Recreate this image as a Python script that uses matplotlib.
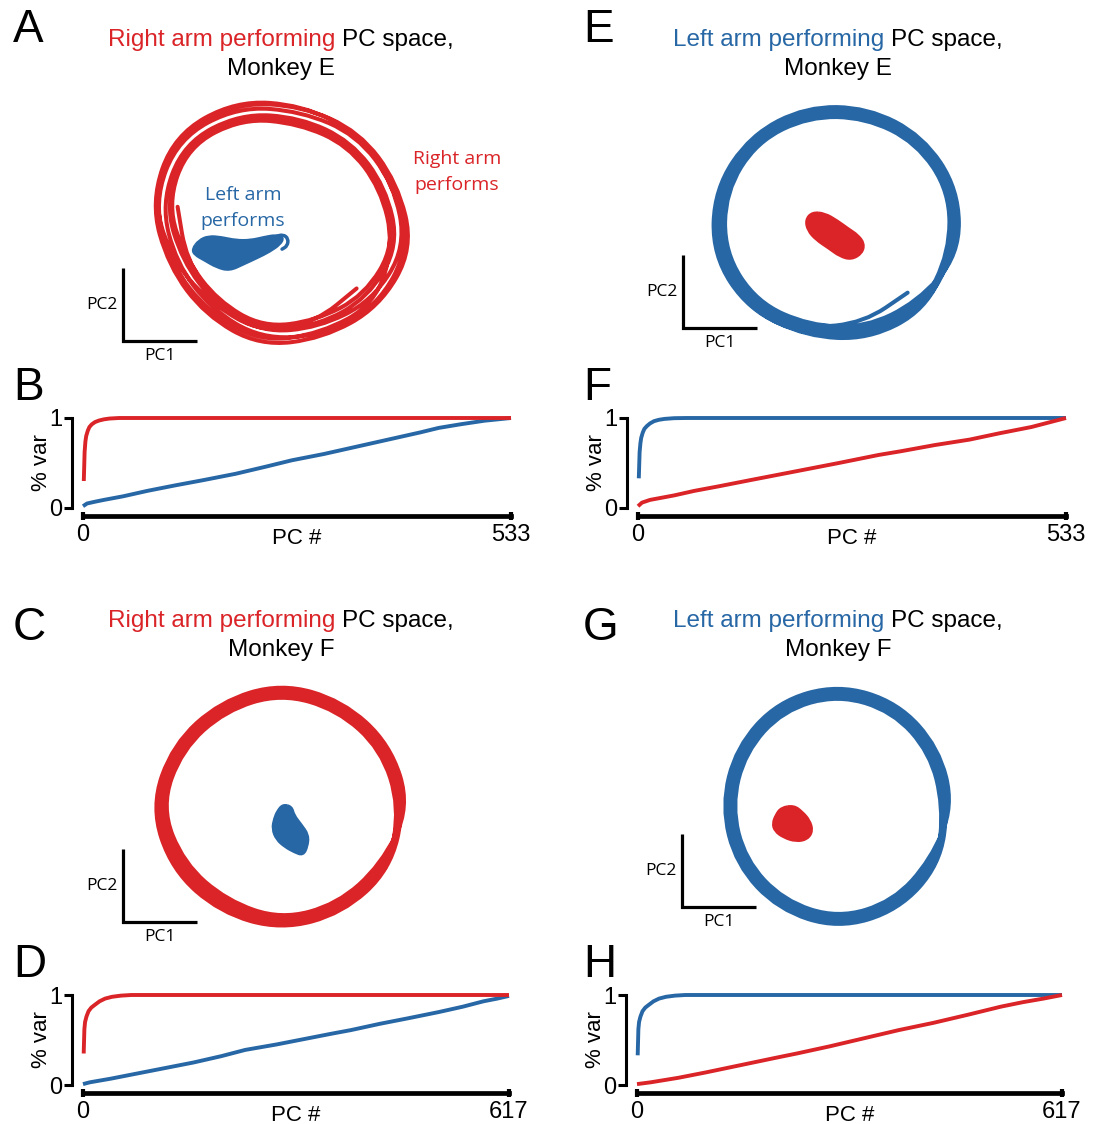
import numpy as np
import matplotlib
matplotlib.use("Agg")
import matplotlib.pyplot as plt
from matplotlib.path import Path
from matplotlib.patches import PathPatch
from matplotlib.lines import Line2D

RED = "#da2428"
BLUE = "#2767a5"
W, H = 1094, 1124

# ---------------------------------------------------------------------------
# cumulative variance curves (PC index, fraction of variance)
# ---------------------------------------------------------------------------
n_E = 533
n_F = 617

B_red_x = [1, 2, 3, 4, 6, 8, 11, 15, 20, 26, 33, 45, 533]
B_red_y = [0.30, 0.62, 0.74, 0.80, 0.86, 0.90, 0.93, 0.955, 0.972, 0.985, 0.994, 1.0, 1.0]
B_blue_x = [0, 5, 15, 26, 50, 80, 114, 150, 190, 228, 260, 300, 340, 380, 420, 443, 470, 500, 533]
B_blue_y = [0.02, 0.05, 0.07, 0.09, 0.13, 0.19, 0.25, 0.31, 0.38, 0.46, 0.53, 0.60, 0.68,
            0.76, 0.84, 0.89, 0.93, 0.97, 1.0]

D_red_x = [1, 2, 3, 5, 8, 12, 17, 24, 32, 42, 55, 70, 617]
D_red_y = [0.35, 0.62, 0.70, 0.76, 0.82, 0.86, 0.89, 0.93, 0.96, 0.98, 0.993, 1.0, 1.0]
D_blue_x = [0, 10, 40, 80, 120, 160, 200, 235, 280, 320, 360, 388, 430, 470, 515, 550, 580, 600, 617]
D_blue_y = [0.01, 0.03, 0.07, 0.13, 0.19, 0.25, 0.32, 0.39, 0.45, 0.51, 0.57, 0.61, 0.68,
            0.74, 0.81, 0.87, 0.93, 0.96, 0.99]

F_blue_x = [1, 2, 3, 4, 6, 8, 11, 15, 20, 26, 33, 45, 60, 533]
F_blue_y = [0.33, 0.62, 0.72, 0.78, 0.84, 0.88, 0.91, 0.94, 0.965, 0.98, 0.99, 0.998, 1.0, 1.0]
F_red_x = [0, 5, 15, 27, 45, 70, 100, 140, 198, 250, 300, 327, 370, 413, 450, 490, 533]
F_red_y = [0.02, 0.06, 0.09, 0.11, 0.14, 0.19, 0.24, 0.31, 0.41, 0.50, 0.59, 0.63, 0.70,
           0.76, 0.83, 0.90, 1.0]

H_blue_x = [1, 2, 3, 5, 8, 12, 17, 24, 32, 42, 55, 70, 617]
H_blue_y = [0.33, 0.62, 0.70, 0.76, 0.82, 0.86, 0.89, 0.93, 0.96, 0.98, 0.993, 1.0, 1.0]
H_red_x = [0, 20, 60, 100, 150, 200, 232, 280, 330, 380, 430, 480, 528, 560, 590, 617]
H_red_y = [0.01, 0.03, 0.08, 0.14, 0.22, 0.30, 0.35, 0.43, 0.52, 0.61, 0.69, 0.78, 0.87,
           0.92, 0.96, 1.0]

# ---------------------------------------------------------------------------
# PC1/PC2 trajectories: radius every 30 deg, running clockwise
# ---------------------------------------------------------------------------
ringA_start = 320
ringA_r = [94, 98, 104, 100, 108, 124, 131, 124, 115, 116, 118, 128,
           122, 115, 117, 112, 114, 126, 133, 126, 116, 114, 114, 121,
           113, 104, 104, 98, 100, 112, 118, 111, 101, 101, 102, 110,
           104, 97, 99, 94, 96, 110, 116, 108, 98, 99, 101, 109,
           117, 110, 113, 108, 111, 123, 128, 120, 110, 112, 114, 124,
           120, 112, 110, 104, 106, 116, 121, 113, 104, 104, 106, 114,
           108, 102, 102, 96, 96, 100]
ringE_start = 315
ringE_r = [97, 101, 107, 114, 118, 118, 115, 111, 110, 113, 117, 118,
           119, 116, 114, 121, 125, 123, 119, 116, 115, 118, 122, 123,
           110, 106, 104, 110, 113, 112, 110, 106, 105, 109, 113, 113,
           117, 114, 112, 118, 121, 121, 118, 114, 113, 116, 120, 121,
           112, 108, 106, 112, 116, 115, 111, 108, 107, 111, 115, 115,
           121, 118, 115, 120, 123, 122, 116, 113, 112, 116, 120, 121,
           114, 111, 109, 115, 119, 117]
ringC_start = 330
ringC_r = [116, 113, 113, 111, 115, 120, 115, 112, 114, 113, 116, 119,
           121, 118, 118, 117, 121, 125, 120, 117, 119, 118, 121, 124,
           111, 108, 108, 104, 108, 115, 110, 107, 109, 108, 111, 114,
           119, 116, 116, 115, 118, 123, 118, 115, 117, 116, 119, 122,
           113, 110, 110, 108, 111, 117, 112, 109, 111, 110, 113, 116,
           117, 115, 114, 107, 110, 121, 116, 113, 115, 114, 117, 120,
           116]
ringG_start = 330
ringG_r = [109, 112, 114, 111, 109, 108, 109, 112, 113, 111, 108, 107,
           114, 117, 119, 116, 114, 113, 114, 117, 118, 116, 113, 112,
           104, 107, 109, 106, 104, 103, 104, 107, 108, 106, 103, 102,
           112, 115, 117, 114, 112, 111, 112, 115, 116, 114, 111, 110,
           106, 109, 111, 108, 106, 105, 106, 109, 110, 108, 105, 104,
           111, 114, 116, 113, 110, 109, 110, 114, 115, 113, 110, 109,
           107, 110, 112, 109, 107, 106, 108, 111, 111, 109, 106, 105,
           109]

# small trajectories of the other arm (outline points, PC units)
blobA_x = [-84, -78, -69, -57, -43, -29, -16, -5, 2, -1, -11, -23, -36, -49, -61, -73, -82]
blobA_y = [-23, -15, -11, -12, -15, -15, -12, -10, -12, -18, -25, -31, -37, -43, -40, -33, -28]
hookA_x = [-5, 2, 7, 6, 1]
hookA_y = [-11, -9, -13, -20, -23]
blobE_x = [-24, -12, 0, 11, 20, 26, 24, 14, 3, -8, -20, -28, -30]
blobE_y = [9, 8, 1, -7, -13, -21, -30, -36, -33, -25, -17, -8, 2]
blobC_x = [2, 10, 12, 19, 26, 25, 21, 13, 4, -4, -8, -6, -3]
blobC_y = [2, 0, -8, -17, -27, -38, -46, -43, -38, -31, -21, -11, -4]
blobG_x = [-55, -43, -35, -28, -25, -30, -41, -53, -61, -63, -60]
blobG_y = [-2, 0, -6, -14, -24, -32, -34, -30, -24, -17, -9]

fig = plt.figure(figsize=(W / 100, H / 100), dpi=100)
SANS = ["Liberation Sans", "DejaVu Sans"]
HUMAN = ["Open Sans", "DejaVu Sans"]


def px_axes(x0, y0, x1, y1):
    return fig.add_axes([x0 / W, 1 - y1 / H, (x1 - x0) / W, (y1 - y0) / H])


def ftext(x, y, s, **kw):
    return fig.text(x / W, 1 - y / H, s, **kw)


def pline(xs, ys, lw=2.3):
    fig.add_artist(Line2D([x / W for x in xs], [1 - y / H for y in ys], color="black",
                          lw=lw, transform=fig.transFigure, solid_capstyle="butt",
                          solid_joinstyle="miter"))


def smooth_path(pts, closed=False):
    pts = np.asarray(pts, float)
    if closed:
        pts = np.vstack([pts, pts[:2]])
    mids = (pts[:-1] + pts[1:]) / 2
    if closed:
        verts, codes = [mids[0]], [Path.MOVETO]
    else:
        verts, codes = [pts[0], mids[0]], [Path.MOVETO, Path.LINETO]
    for i in range(1, len(pts) - 1):
        verts += [pts[i], mids[i]]
        codes += [Path.CURVE3, Path.CURVE3]
    if not closed:
        verts.append(pts[-1])
        codes.append(Path.LINETO)
    return Path(verts, codes)


def ring_panel(cx, cy, radii, start, zoom, color, blob, blob_color, hook=None, lw=2.9):
    # zoom > 1 shrinks the PC-unit view so the trajectory fills more of the panel
    ax = px_axes(cx - 170, cy - 150, cx + 170, cy + 150)
    ax.set_xlim(-170 / zoom, 170 / zoom)
    ax.set_ylim(-150 / zoom, 150 / zoom)
    ax.axis("off")
    r = np.asarray(radii, float)
    th = np.deg2rad(start - 30 * np.arange(len(r)))
    pts = np.column_stack([r * np.cos(th), r * np.sin(th)])
    ax.add_patch(PathPatch(smooth_path(pts), fill=False, ec=color, lw=lw,
                           capstyle="round", joinstyle="round", clip_on=False))
    bx, by = blob
    ax.add_patch(PathPatch(smooth_path(np.column_stack([bx, by]), closed=True),
                           fc=blob_color, ec=blob_color, lw=2.5, clip_on=False))
    if hook is not None:
        ax.add_patch(PathPatch(smooth_path(np.column_stack(hook)), fill=False,
                               ec=blob_color, lw=2.5, capstyle="round", clip_on=False))
    return ax


def scale_bar(x, y):
    pline([x, x, x + 74], [y - 73, y, y])
    ftext(x - 5, y - 36, "PC2", ha="right", va="center", fontsize=12.5, family=HUMAN)
    ftext(x + 37, y + 15, "PC1", ha="center", va="center", fontsize=12.5, family=HUMAN)


def title(cx, y, colored, color, monkey):
    full = ftext(cx, y, colored + " PC space,", ha="center", va="center",
                 fontsize=17.5, family=SANS, alpha=0)
    r = fig.canvas.get_renderer()
    ext = full.get_window_extent(r)
    ftext(ext.x0, y, colored, ha="left", va="center", fontsize=17.5, family=SANS, color=color)
    ftext(ext.x1, y, "PC space,", ha="right", va="center", fontsize=17.5, family=SANS)
    ftext(cx, y + 29, monkey, ha="center", va="center", fontsize=17.5, family=SANS)


def var_panel(x0, ytop, x1, ybot, n, lines):
    ax = px_axes(x0, ytop, x1, ybot)
    for xs, ys, c in lines:
        ax.plot(xs, ys, color=c, lw=2.8, clip_on=False, solid_capstyle="butt")
    ax.set_xlim(0, n)
    ax.set_ylim(0, 1)
    ax.patch.set_visible(False)
    for s in ["top", "right"]:
        ax.spines[s].set_visible(False)
    ax.spines["left"].set_position(("outward", 8))
    ax.spines["left"].set_linewidth(2.2)
    ax.spines["left"].set_bounds(0, 1)
    ax.spines["bottom"].set_position(("outward", 6))
    ax.spines["bottom"].set_linewidth(3.4)
    ax.spines["bottom"].set_bounds(0, n)
    ax.set_xticks([0, n])
    ax.set_xticklabels(["0", str(n)], family=SANS)
    ax.set_yticks([0, 1])
    ax.set_yticklabels(["0", "1"], family=SANS)
    ax.tick_params(axis="y", direction="out", length=6, width=2.2, labelsize=17, pad=1)
    ax.tick_params(axis="x", direction="inout", length=6, width=3, labelsize=17, pad=2.5)
    ax.set_xlabel("PC #", fontsize=16, family=SANS, labelpad=-13)
    ax.set_ylabel("% var", fontsize=16, family=SANS, labelpad=-2)
    return ax


# panel letters
for letter, x, y in [("A", 13, 30), ("B", 13, 388), ("C", 13, 628), ("D", 13, 965),
                     ("E", 583, 30), ("F", 583, 388), ("G", 583, 628), ("H", 583, 965)]:
    ftext(x, y, letter, ha="left", va="center", fontsize=33, family=SANS)

title(281, 40, "Right arm performing", RED, "Monkey E")
title(838, 40, "Left arm performing", BLUE, "Monkey E")
title(281, 621, "Right arm performing", RED, "Monkey F")
title(838, 621, "Left arm performing", BLUE, "Monkey F")

ring_panel(281, 225, ringA_r, ringA_start, 1.05, RED, (blobA_x, blobA_y), BLUE,
           hook=(hookA_x, hookA_y))
ring_panel(837, 222, ringE_r, ringE_start, 1.03, BLUE, (blobE_x, blobE_y), RED)
ring_panel(281, 807, ringC_r, ringC_start, 1.04, RED, (blobC_x, blobC_y), BLUE)
ring_panel(838, 806, ringG_r, ringG_start, 1.03, BLUE, (blobG_x, blobG_y), RED)

scale_bar(123, 341)
scale_bar(683, 328)
scale_bar(123, 922)
scale_bar(682, 907)

ftext(243, 195, "Left arm", ha="center", va="center", fontsize=14, family=HUMAN, color=BLUE)
ftext(243, 221, "performs", ha="center", va="center", fontsize=14, family=HUMAN, color=BLUE)
ftext(457, 159, "Right arm", ha="center", va="center", fontsize=14, family=HUMAN, color=RED)
ftext(457, 185, "performs", ha="center", va="center", fontsize=14, family=HUMAN, color=RED)

var_panel(83, 418, 511, 508, n_E, [(B_blue_x, B_blue_y, BLUE), (B_red_x, B_red_y, RED)])
var_panel(638, 418, 1066, 508, n_E, [(F_blue_x, F_blue_y, BLUE), (F_red_x, F_red_y, RED)])
var_panel(83, 995, 509, 1085, n_F, [(D_blue_x, D_blue_y, BLUE), (D_red_x, D_red_y, RED)])
var_panel(637, 995, 1062, 1085, n_F, [(H_blue_x, H_blue_y, BLUE), (H_red_x, H_red_y, RED)])

fig.savefig("out.png", dpi=100, facecolor="white")
